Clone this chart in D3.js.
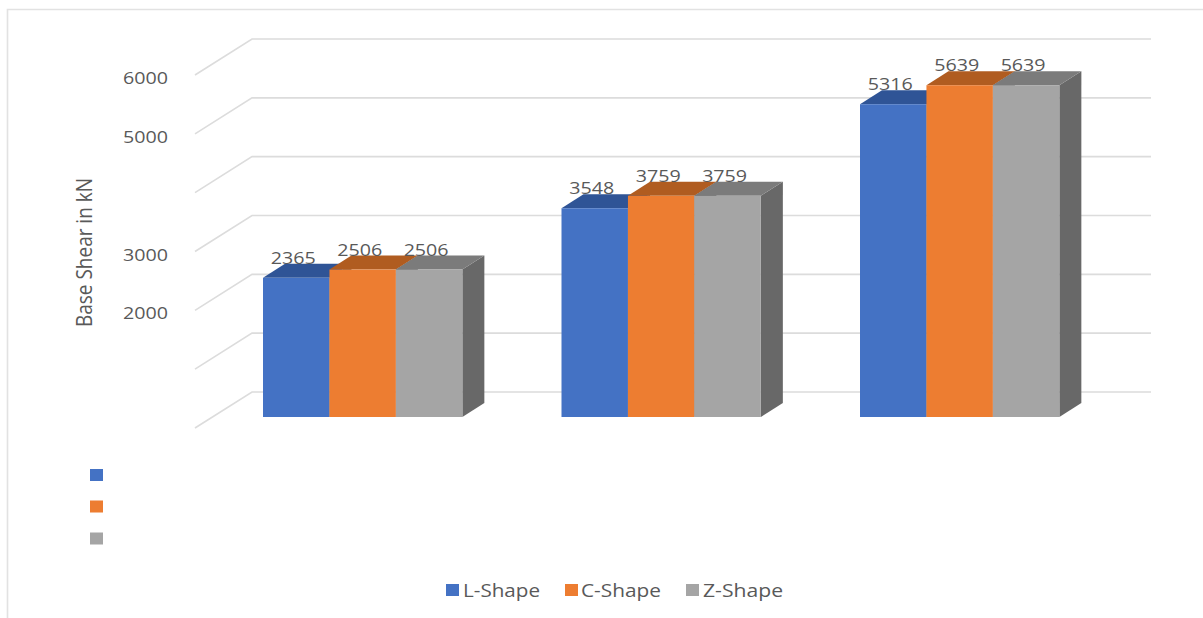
<!DOCTYPE html>
<html>
<head>
<meta charset="utf-8">
<script src="https://cdn.jsdelivr.net/npm/d3@7"></script>
<style>
  html, body { margin: 0; padding: 0; background: #fff; }
  svg { display: block; }
  text { font-family: "Open Sans", sans-serif; fill: #595959; }
</style>
</head>
<body>
<svg id="chart" width="1203" height="618"></svg>
<script>
// Base shear per building group and column shape
const groups = ["A", "B", "C"];
const seriesNames = ["L-Shape", "C-Shape", "Z-Shape"];
const lShape = [2365, 3548, 5316];
const cShape = [2506, 3759, 5639];
const zShape = [2506, 3759, 5639];
const seriesValues = [lShape, cShape, zShape];
const gridValues = [0, 1000, 2000, 3000, 4000, 5000, 6000];
const tickLabels = ["6000", "5000", "3000", "2000"];

const frontColors = ["#4472C4", "#ED7D31", "#A5A5A5"];
const topColors = ["#2F5496", "#B05C20", "#7B7B7B"];
const sideColor = "#686868";

const svg = d3.select("#chart");

// Oblique projection: values map to the bars' front plane, and everything
// else is an x/y shift from that plane.
const y = d3.scaleLinear().domain([0, 6000]).range([417, 64]);
const barW = 66.45;
const groupX = d3.scalePoint().domain(groups).range([263, 860]);
const depth = { dx: 22, dy: -14 };
const wallShift = { dx: 57, dy: -36 };
const floorFrontX = 195;
const floorFrontDy = 11;   // front edge of the floor sits below the bar base
const wallRightX = 1151;

// Outer frame, open at the bottom and running off to the right
svg.append("path")
  .attr("d", "M7.5,618V9.5H1203")
  .attr("fill", "none").attr("stroke", "#e2e2e2").attr("stroke-width", 1.6);

// Gridlines along the floor side wall and the back wall
const grid = svg.append("g").attr("fill", "none").attr("stroke", "#dcdcdc").attr("stroke-width", 1.6);
grid.selectAll("path").data(gridValues).join("path")
  .attr("d", v => {
    const fy = y(v) + floorFrontDy;
    return d3.line()([
      [floorFrontX, fy],
      [floorFrontX + wallShift.dx, fy + wallShift.dy],
      [wallRightX, fy + wallShift.dy]
    ]);
  });

// Bars, painted series by series so each one overlaps the previous top
const poly = pts => d3.line()(pts) + "Z";
groups.forEach((g, gi) => {
  const gx = groupX(g);
  seriesValues.forEach((vals, si) => {
    const v = vals[gi];
    const left = gx + si * barW, right = left + barW;
    const top = y(v), base = y(0);
    const bar = svg.append("g").attr("class", "bar");
    bar.append("path")
      .attr("d", poly([[right, base], [right + depth.dx, base + depth.dy], [right + depth.dx, top + depth.dy], [right, top]]))
      .attr("fill", sideColor);
    bar.append("path")
      .attr("d", poly([[left, top], [left + depth.dx, top + depth.dy], [right + depth.dx, top + depth.dy], [right, top]]))
      .attr("fill", topColors[si]);
    bar.append("rect")
      .attr("x", left).attr("y", top)
      .attr("width", barW).attr("height", base - top)
      .attr("fill", frontColors[si]);
  });
});

// Value labels, stretched a little wider than the font's natural width
groups.forEach((g, gi) => {
  seriesValues.forEach((vals, si) => {
    svg.append("text")
      .attr("x", groupX(g) + si * barW + barW / 2 - 25.5)
      .attr("y", y(vals[gi]) - 14)
      .attr("font-size", 16.5)
      .attr("textLength", 45).attr("lengthAdjust", "spacingAndGlyphs")
      .text(vals[gi]);
  });
});

// Value axis labels
tickLabels.forEach(t => {
  svg.append("text")
    .attr("x", 123)
    .attr("y", y(+t) + 20)
    .attr("font-size", 16.5)
    .attr("textLength", 45).attr("lengthAdjust", "spacingAndGlyphs")
    .text(t);
});

// Axis title
svg.append("text")
  .attr("transform", "translate(92,327) rotate(-90)")
  .attr("font-size", 21)
  .attr("textLength", 149).attr("lengthAdjust", "spacingAndGlyphs")
  .text("Base Shear in kN");

// Leftover column of colour keys
const keyY = [469, 500.5, 532.5];
frontColors.forEach((c, i) => {
  svg.append("rect")
    .attr("x", 90).attr("y", keyY[i]).attr("width", 13).attr("height", 12).attr("fill", c);
});

// Legend
const legendSwatchX = [446, 565, 686];
const legendTextX = [463, 581, 703];
const legendTextW = [77, 80, 80];
seriesNames.forEach((n, i) => {
  svg.append("rect")
    .attr("x", legendSwatchX[i]).attr("y", 584).attr("width", 13).attr("height", 12).attr("fill", frontColors[i]);
  svg.append("text")
    .attr("x", legendTextX[i]).attr("y", 597)
    .attr("font-size", 18)
    .attr("textLength", legendTextW[i]).attr("lengthAdjust", "spacingAndGlyphs")
    .text(n);
});
</script>
</body>
</html>
